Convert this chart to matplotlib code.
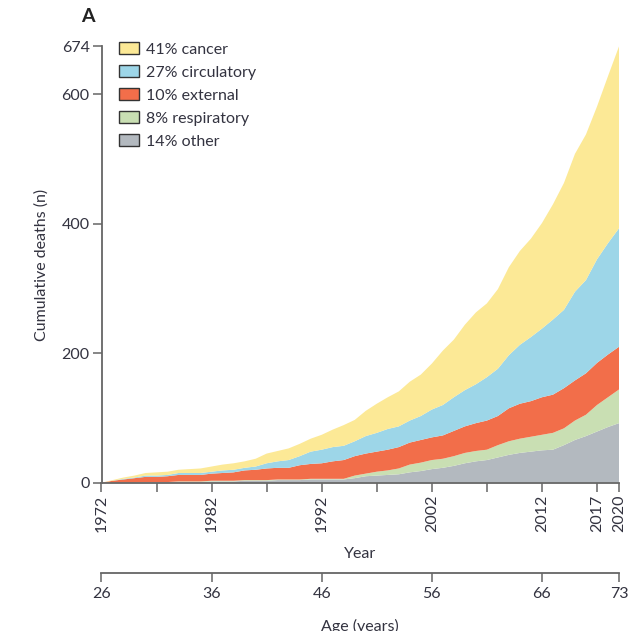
import numpy as np
import matplotlib
matplotlib.use("Agg")
import matplotlib.pyplot as plt
from matplotlib.patches import Patch

plt.rcParams['font.family'] = ['Lato', 'DejaVu Sans']

# x is age in years; one point per calendar year 1972..2019
age = np.arange(26, 74)

# cumulative deaths by cause (n)
other = [0, 0, 0, 0, 1, 1, 1, 1, 1, 1, 2, 2, 2, 3, 3, 3, 4, 4, 4, 5, 5, 5, 5, 7,
         10, 11, 12, 13, 16, 18, 21, 23, 26, 30, 33, 35, 39, 43, 46, 48, 50, 51,
         58, 66, 72, 79, 86, 92]
respiratory = [0, 0, 0, 0, 0, 0, 0, 1, 1, 1, 1, 1, 1, 1, 1, 1, 1, 1, 1, 1, 1, 1, 1,
               4, 4, 6, 7, 9, 12, 13, 14, 14, 15, 16, 16, 16, 19, 21, 22, 23, 24,
               26, 26, 30, 33, 41, 46, 52]
external = [0, 3, 5, 7, 8, 8, 9, 10, 10, 10, 11, 12, 13, 15, 16, 18, 18, 18, 22,
            23, 24, 27, 29, 30, 31, 31, 32, 33, 34, 35, 35, 36, 39, 41, 43, 45,
            45, 51, 54, 55, 58, 59, 62, 62, 64, 65, 66, 66]
circulatory = [0, 0, 1, 1, 2, 2, 2, 3, 3, 3, 3, 4, 4, 4, 5, 8, 10, 12, 14, 19, 21,
               22, 22, 23, 27, 29, 32, 32, 34, 37, 43, 47, 52, 56, 60, 67, 73, 82,
               91, 99, 106, 116, 121, 137, 144, 160, 172, 183]
cancer = [0, 1, 2, 3, 4, 5, 5, 5, 6, 7, 8, 9, 10, 10, 12, 15, 16, 18, 19, 20, 23,
          27, 32, 33, 39, 45, 49, 54, 60, 64, 71, 84, 89, 101, 111, 114, 123, 136,
          145, 152, 163, 178, 196, 213, 225, 236, 258, 281]

labels = ['41% cancer', '27% circulatory', '10% external', '8% respiratory', '14% other']
colors = ['#fce996', '#9dd6e8', '#f26e4a', '#c9dfb3', '#b3b9bf']

year_ticks = [26, 36, 46, 56, 66, 71, 73]
year_labels = ['1972', '1982', '1992', '2002', '2012', '2017', '2020']
year_minor = [31, 41, 51, 61]
age_ticks = [26, 36, 46, 56, 66, 73]
y_ticks = [0, 200, 400, 600, 674]

axis_col = '#666666'
text_col = '#333340'
fs = 11.5

fig = plt.figure(figsize=(6.36, 6.31), dpi=100)
ax = fig.add_axes([101.5 / 636, 148.3 / 631, 517.5 / 636, 436.3 / 631])

ax.stackplot(age, other, respiratory, external, circulatory, cancer,
             colors=colors[::-1], linewidth=0)

ax.set_xlim(26, 73)
ax.set_ylim(0, 674)
for s in ['top', 'right']:
    ax.spines[s].set_visible(False)
for s in ['left', 'bottom']:
    ax.spines[s].set_color(axis_col)
    ax.spines[s].set_linewidth(1.3)

ax.set_yticks(y_ticks)
ax.set_yticklabels([str(v) for v in y_ticks])
ax.set_xticks(year_ticks)
ax.set_xticklabels(year_labels, rotation=90)
ax.set_xticks(year_minor, minor=True)
ax.tick_params(axis='both', which='both', length=6.5, width=1.1, color=axis_col,
               labelsize=fs, labelcolor=text_col, pad=2)
ax.set_ylabel('Cumulative deaths (n)', fontsize=fs, color=text_col, labelpad=9)
ax.set_xlabel('Year', fontsize=fs, color=text_col, labelpad=11)

# age axis under the year axis
sec = ax.secondary_xaxis(-0.208)
sec.set_xticks(age_ticks)
sec.set_xticklabels([str(a) for a in age_ticks])
sec.spines['bottom'].set_color(axis_col)
sec.spines['bottom'].set_linewidth(1.3)
sec.tick_params(length=6.5, width=1.1, color=axis_col, labelsize=fs,
                labelcolor=text_col, pad=3)
sec.set_xlabel('Age (years)', fontsize=fs, color=text_col, labelpad=13)

handles = [Patch(facecolor=c, edgecolor='#333333', linewidth=1) for c in colors]
ax.legend(handles, labels, loc='upper left', bbox_to_anchor=(119 / 636, 1 - 42 / 631),
          bbox_transform=fig.transFigure, frameon=False, fontsize=fs,
          borderpad=0, borderaxespad=0, handlelength=1.25, handleheight=0.8,
          handletextpad=0.45, labelspacing=0.52, labelcolor=text_col)

fig.text(88 / 636, 1 - 16 / 631, 'A', fontsize=14, fontweight='bold',
         color='#222222', ha='center', va='center')

fig.savefig('out.png', dpi=100)
